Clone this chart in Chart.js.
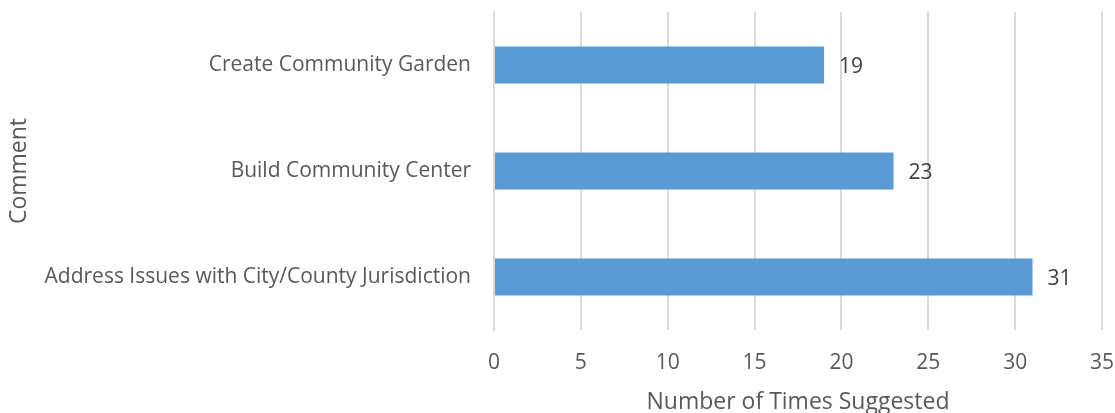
<!DOCTYPE html>
<html>
<head>
<meta charset="utf-8">
<script src="https://cdn.jsdelivr.net/npm/chart.js@4"></script>
<style>
  html, body { margin: 0; padding: 0; background: #fff; }
  #wrap { width: 1115px; height: 413px; }
</style>
</head>
<body>
<div id="wrap"><canvas id="myChart" width="1115" height="413"></canvas></div>
<script>
const categories = ['Create Community Garden', 'Build Community Center', 'Address Issues with City/County Jurisdiction'];
const suggested = [19, 23, 31];
const xTicks = [0, 5, 10, 15, 20, 25, 30, 35];

const FONT = "'Open Sans', sans-serif";

// numbers at the end of each bar
const barLabels = {
    id: 'barLabels',
    afterDatasetsDraw(chart) {
        const ctx = chart.ctx;
        const meta = chart.getDatasetMeta(0);
        ctx.save();
        ctx.font = '21px ' + FONT;
        ctx.fillStyle = '#404040';
        ctx.textBaseline = 'middle';
        ctx.textAlign = 'left';
        meta.data.forEach((bar, i) => {
            ctx.fillText(String(suggested[i]), bar.x + 15, bar.y + 2);
        });
        ctx.restore();
    }
};

new Chart(document.getElementById('myChart'), {
    type: 'bar',
    data: {
        labels: categories,
        datasets: [{
            label: 'Number of Times Suggested',
            data: suggested,
            backgroundColor: '#5B9BD5',
            borderWidth: 0,
            barPercentage: 0.35,
            categoryPercentage: 1.0,
        }]
    },
    options: {
        indexAxis: 'y',
        responsive: false,
        animation: false,
        layout: { padding: { top: 12, right: 13, left: 0, bottom: 0 } },
        plugins: { legend: { display: false }, tooltip: { enabled: false } },
        scales: {
            x: {
                min: 0,
                max: 35,
                afterBuildTicks(scale) { scale.ticks = xTicks.map(v => ({ value: v })); },
                afterFit(scale) {
                    scale.height = 83;
                    scale.paddingLeft = 0;
                    scale.paddingRight = 0;
                },
                grid: { color: '#D9D9D9', lineWidth: 2, drawTicks: false },
                border: { display: false },
                ticks: { color: '#595959', padding: 20, font: { family: FONT, size: 21 } },
                title: {
                    display: true,
                    text: 'Number of Times Suggested',
                    color: '#595959',
                    font: { family: FONT, size: 23 },
                    padding: { top: 0, bottom: -3 }
                }
            },
            y: {
                afterFit(scale) {
                    scale.width = 494;
                    scale.paddingTop = 0;
                    scale.paddingBottom = 0;
                },
                grid: { display: false, drawTicks: false },
                border: { display: true, color: '#D9D9D9', width: 2 },
                ticks: { color: '#595959', padding: 23, font: { family: FONT, size: 21 } },
                title: {
                    display: true,
                    text: 'Comment',
                    color: '#595959',
                    font: { family: FONT, size: 23 },
                    padding: { top: 6, bottom: 0 }
                }
            }
        }
    },
    plugins: [barLabels]
});
</script>
</body>
</html>
